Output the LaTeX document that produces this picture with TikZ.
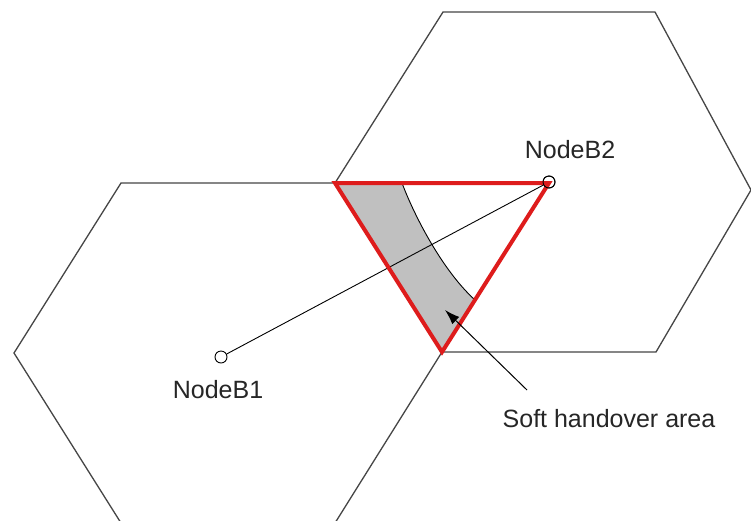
\documentclass[tikz,border=0pt]{standalone}
\usepackage{fontspec}
\setmainfont{Liberation Sans}
\usetikzlibrary{arrows.meta}
\definecolor{hexgray}{RGB}{70,70,70}
\definecolor{redline}{RGB}{222,28,28}
\definecolor{areagray}{RGB}{192,192,192}
\tikzset{
  hexline/.style={draw=hexgray, line width=1.3pt},
  redtri/.style={draw=redline, line width=4pt, line join=miter},
  station/.style={circle, draw=black, line width=0.9pt, minimum size=12pt, inner sep=0pt, fill=white},
  lbl/.style={font=\fontsize{25}{30}\selectfont, anchor=base, inner sep=0pt, text=black!85},
  link/.style={draw=black, line width=0.9pt},
  pointer/.style={draw=black, line width=1pt, -{Latex[length=15pt,width=10pt]}}
}
\begin{document}
\begin{tikzpicture}[x=1pt,y=-1pt]
\useasboundingbox (0,0) rectangle (751,520);
\fill[white] (0,0) rectangle (751,520);
\begin{scope}
\clip (0,0) rectangle (751,520);
% left hexagon
\draw[hexline] (14,353) -- (121,183) -- (335,183) -- (442,352) -- (335,523) -- (121,523) -- cycle;
% right hexagon
\draw[hexline] (335,183) -- (443,12) -- (655,12) -- (751,190) -- (656,352) -- (442,352) -- cycle;
\end{scope}
% soft handover area
\fill[areagray] (335,183) -- (442,352) -- (475,300) .. controls (442,270) and (414,215) .. (402,183) -- cycle;
\draw[black, line width=0.9pt] (402,183) .. controls (414,215) and (442,270) .. (475,300);
% link
\node[station] (b1) at (221,357) {};
\node[station] (b2) at (549,182) {};
\draw[link] (b1) -- (b2);
% red triangle
\draw[redtri] (335,183) -- (549,183) -- (442,352) -- cycle;
\node[station, fill=none] at (549,182) {};
% labels
\node[lbl] (l1) at (218,398) {NodeB1};
\node[lbl] (l2) at (570,158) {NodeB2};
\node[lbl] (l3) at (609,427) {Soft handover area};
\coordinate (tail) at (527,390);
\coordinate (tip) at (445,310);
\draw[pointer] (tail) -- (tip);
\end{tikzpicture}
\end{document}
